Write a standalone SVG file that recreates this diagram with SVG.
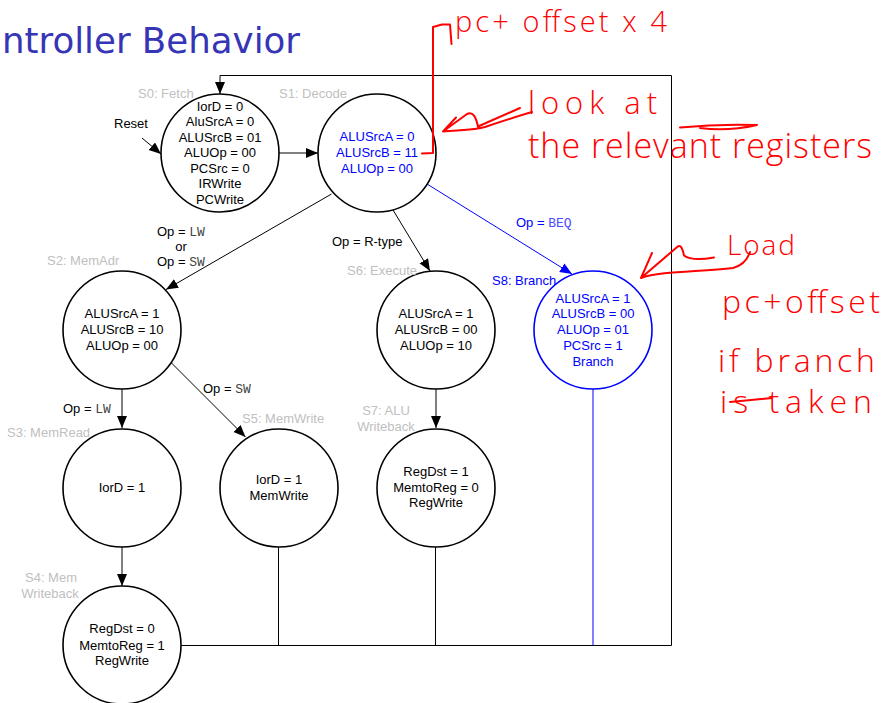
<svg xmlns="http://www.w3.org/2000/svg" width="887" height="703" viewBox="0 0 887 703">
  <style>
    .st { fill: #fff; stroke: #000; stroke-width: 1.6; }
    .st-b { fill: #fff; stroke: #0000ff; stroke-width: 1.6; }
    .t { font-family: "Liberation Sans", Arial, sans-serif; font-size: 13px; fill: #000; text-anchor: middle; }
    .tb { fill: #0000ff; }
    .lbl { font-family: "Liberation Sans", Arial, sans-serif; font-size: 13px; fill: #c0c0c0; }
    .cond { font-family: "Liberation Sans", Arial, sans-serif; font-size: 13px; fill: #000; }
    .mono { font-family: "Liberation Mono", "Courier New", monospace; font-size: 13px; fill: #444; }
    .wire { fill: none; stroke: #000; stroke-width: 1; }
    .wire-b { fill: none; stroke: #0000ff; stroke-width: 1; }
    .ink { fill: none; stroke: #ff0000; stroke-width: 2; stroke-linecap: round; stroke-linejoin: round; }
    .hand { font-family: "Open Sans", "DejaVu Sans", sans-serif; font-weight: 300; fill: #ff0000; }
  </style>
  <defs>
    <marker id="arrow" markerUnits="userSpaceOnUse" markerWidth="13" markerHeight="11" refX="12" refY="5" orient="auto">
      <path d="M0,0 L12,5 L0,10 z" fill="#000"/>
    </marker>
    <marker id="arrow-b" markerUnits="userSpaceOnUse" markerWidth="13" markerHeight="11" refX="12" refY="5" orient="auto">
      <path d="M0,0 L12,5 L0,10 z" fill="#0000ff"/>
    </marker>
  </defs>

  <!-- page title -->
  <text x="2" y="52.5" font-family="'DejaVu Sans', Tahoma, sans-serif" font-size="35" fill="#3535b5" textLength="298" lengthAdjust="spacingAndGlyphs">ntroller Behavior</text>

  <!-- transitions -->
  <g id="connectors">
    <path class="wire" d="M142,138 L161,154" marker-end="url(#arrow)"/>
    <path class="wire" d="M279,153 L318,153" marker-end="url(#arrow)"/>
    <path class="wire" d="M331.5,194 L166,289.5" marker-end="url(#arrow)"/>
    <path class="wire" d="M393,210 L430,271" marker-end="url(#arrow)"/>
    <path class="wire-b" d="M427,184 L572,274" marker-end="url(#arrow-b)"/>
    <path class="wire" d="M122,389 L122,428" marker-end="url(#arrow)"/>
    <path class="wire" d="M171.5,363 L245.5,437" marker-end="url(#arrow)"/>
    <path class="wire" d="M436,389 L436,428" marker-end="url(#arrow)"/>
    <path class="wire" d="M122,547 L122,586" marker-end="url(#arrow)"/>
    <!-- return path to fetch -->
    <path class="wire" d="M181,645.5 L671.5,645.5 L671.5,75.5 L220,75.5 L220,94" marker-end="url(#arrow)"/>
    <path class="wire" d="M278.5,547 L278.5,645.5"/>
    <path class="wire" d="M435.5,547 L435.5,645.5"/>
    <path class="wire-b" d="M593,389 L593,645.5"/>

    <!-- transition conditions -->
    <text class="cond" x="157" y="235.5">Op = <tspan class="mono">LW</tspan></text>
    <text class="cond" x="181" y="251" text-anchor="middle">or</text>
    <text class="cond" x="157" y="266">Op = <tspan class="mono">SW</tspan></text>
    <text class="cond" x="332" y="246">Op = R-type</text>
    <text class="cond" x="516" y="227" style="fill:#0000ff">Op = <tspan class="mono" style="fill:#4a4aff">BEQ</tspan></text>
    <text class="cond" x="203" y="393">Op = <tspan class="mono">SW</tspan></text>
    <text class="cond" x="63" y="413">Op = <tspan class="mono">LW</tspan></text>
    <text class="cond" x="114" y="127.5">Reset</text>
  </g>

  <g id="S0">
    <circle class="st" cx="220" cy="153" r="59"/>
    <text class="lbl" x="138" y="97.5">S0: Fetch</text>
    <text class="t" x="220" y="110.5">IorD = 0</text>
    <text class="t" x="220" y="126">AluSrcA = 0</text>
    <text class="t" x="220" y="141.5">ALUSrcB = 01</text>
    <text class="t" x="220" y="157">ALUOp = 00</text>
    <text class="t" x="220" y="172.5">PCSrc = 0</text>
    <text class="t" x="220" y="188">IRWrite</text>
    <text class="t" x="220" y="203.5">PCWrite</text>
  </g>

  <g id="S1">
    <circle class="st" cx="377" cy="153" r="59"/>
    <text class="lbl" x="279" y="97.5">S1: Decode</text>
    <text class="t tb" x="377" y="140.5">ALUSrcA = 0</text>
    <text class="t tb" x="377" y="156.5">ALUSrcB = 11</text>
    <text class="t tb" x="377" y="172.5">ALUOp = 00</text>
  </g>

  <g id="S2">
    <circle class="st" cx="122" cy="330" r="59"/>
    <text class="lbl" x="47" y="265">S2: MemAdr</text>
    <text class="t" x="122" y="317.5">ALUSrcA = 1</text>
    <text class="t" x="122" y="333.5">ALUSrcB = 10</text>
    <text class="t" x="122" y="349.5">ALUOp = 00</text>
  </g>

  <g id="S6">
    <circle class="st" cx="436" cy="330" r="59"/>
    <text class="lbl" x="347" y="275">S6: Execute</text>
    <text class="t" x="436" y="317.5">ALUSrcA = 1</text>
    <text class="t" x="436" y="333.5">ALUSrcB = 00</text>
    <text class="t" x="436" y="349.5">ALUOp = 10</text>
  </g>

  <g id="S8">
    <circle class="st-b" cx="593" cy="330" r="59"/>
    <text class="lbl" x="492" y="284.5" style="fill:#0000ff">S8: Branch</text>
    <text class="t tb" x="593" y="302.5">ALUSrcA = 1</text>
    <text class="t tb" x="593" y="318">ALUSrcB = 00</text>
    <text class="t tb" x="593" y="334">ALUOp = 01</text>
    <text class="t tb" x="593" y="350">PCSrc = 1</text>
    <text class="t tb" x="593" y="366">Branch</text>
  </g>

  <g id="S3">
    <circle class="st" cx="122" cy="488" r="59"/>
    <text class="lbl" x="7" y="437">S3: MemRead</text>
    <text class="t" x="122" y="491.5">IorD = 1</text>
  </g>

  <g id="S5">
    <circle class="st" cx="279" cy="488" r="59"/>
    <text class="lbl" x="242" y="422.5">S5: MemWrite</text>
    <text class="t" x="279" y="484">IorD = 1</text>
    <text class="t" x="279" y="500">MemWrite</text>
  </g>

  <g id="S7">
    <circle class="st" cx="436" cy="488" r="59"/>
    <text class="lbl" x="386" y="415" text-anchor="middle">S7: ALU</text>
    <text class="lbl" x="386" y="430.5" text-anchor="middle">Writeback</text>
    <text class="t" x="436" y="475.5">RegDst = 1</text>
    <text class="t" x="436" y="492">MemtoReg = 0</text>
    <text class="t" x="436" y="507">RegWrite</text>
  </g>

  <g id="S4">
    <circle class="st" cx="122" cy="645" r="59"/>
    <text class="lbl" x="51" y="581.5" text-anchor="middle">S4: Mem</text>
    <text class="lbl" x="50" y="597.5" text-anchor="middle">Writeback</text>
    <text class="t" x="122" y="633">RegDst = 0</text>
    <text class="t" x="122" y="649.5">MemtoReg = 1</text>
    <text class="t" x="122" y="664.5">RegWrite</text>
  </g>

  <!-- red pen notes -->
  <g id="notes">
    <path class="ink" d="M422,153.5 L433,153 L433,27 L442,24.5 L450,24.5 L451.5,44"/>
    <text class="hand" x="455" y="32" font-size="29" textLength="212" lengthAdjust="spacing">pc+ offset x 4</text>

    <path class="ink" d="M520,108 L478,126.5 C476,117 473,111 467,114 L443,131.5 L456,117.5 M443,131.5 C460,130 475,130 485,127 C500,122 515,117 532,112"/>
    <text class="hand" x="528" y="114" font-size="31" textLength="129" lengthAdjust="spacing">look at</text>
    <text class="hand" x="528" y="158" font-size="34" textLength="344" lengthAdjust="spacing">the relevant registers</text>
    <path class="ink" d="M680,127.5 C705,125 730,124 757,125 C735,130 715,130 700,128" stroke-width="1.5"/>

    <path class="ink" d="M714,257.5 C700,260 690,260 684,255.5 C682,246 680,244 676,248 L641,278 L652,253 M641,278 C660,271 700,272 733,268 C744,265 748,258 750,252"/>
    <text class="hand" x="727" y="255" font-size="28" textLength="68" lengthAdjust="spacing">Load</text>
    <text class="hand" x="722" y="313" font-size="32" textLength="158" lengthAdjust="spacing">pc+offset</text>
    <text class="hand" x="718" y="372" font-size="32" textLength="157" lengthAdjust="spacing">if branch</text>
    <text class="hand" x="720" y="413" font-size="32" textLength="152" lengthAdjust="spacing">is taken</text>
    <path class="ink" d="M730,402 L772,398" stroke-width="1.5"/>
  </g>
</svg>
